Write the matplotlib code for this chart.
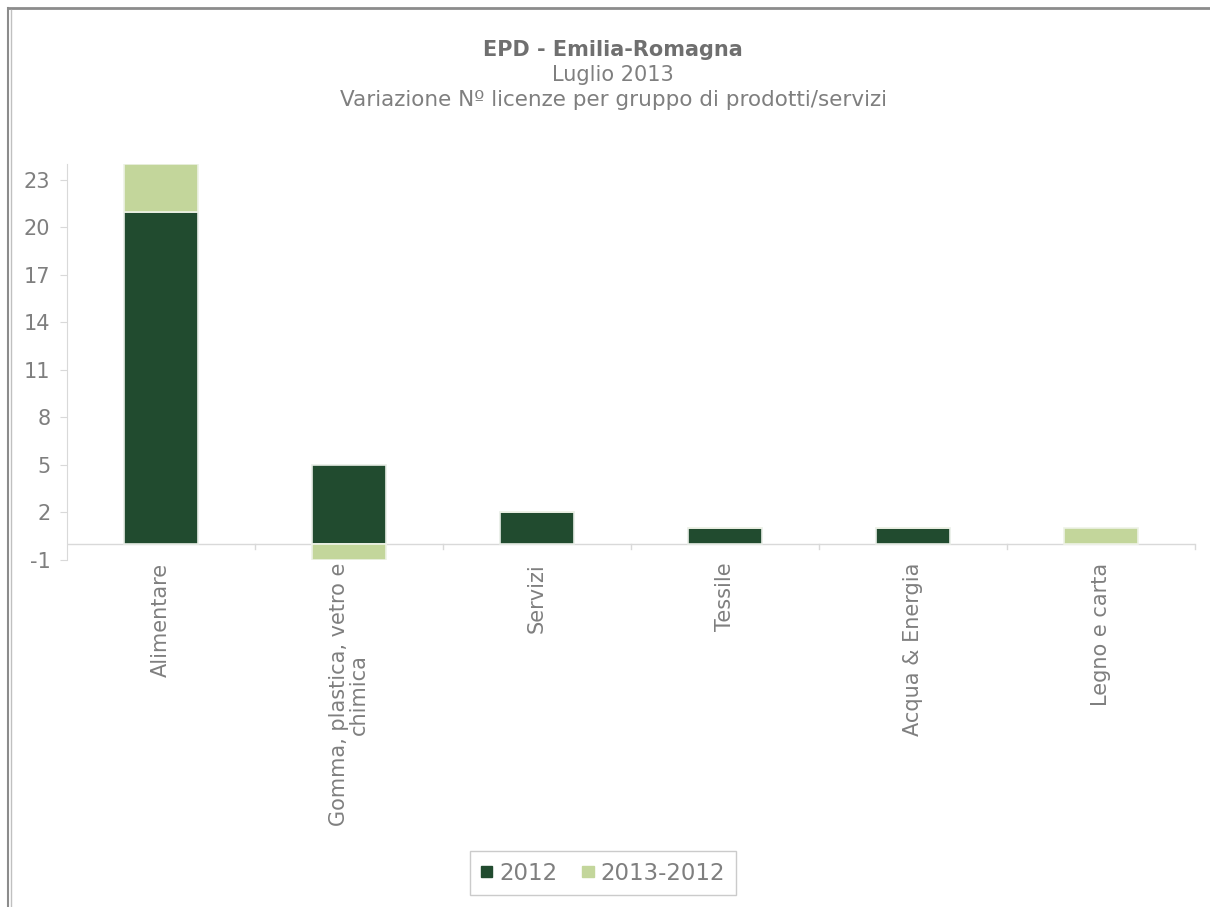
import matplotlib
matplotlib.use("Agg")
import matplotlib.pyplot as plt
from matplotlib.lines import Line2D
from matplotlib.patches import Patch
import numpy as np

# data
categories = ["Alimentare", "Gomma, plastica, vetro e\nchimica", "Servizi",
              "Tessile", "Acqua & Energia", "Legno e carta"]
val_2012 = [21, 5, 2, 1, 1, 0]
val_diff = [3, -1, 0, 0, 0, 1]
series_names = ["2012", "2013-2012"]
yticks = [-1, 2, 5, 8, 11, 14, 17, 20, 23]

dark = "#214b2f"
light = "#c3d69b"
grey_txt = "#7f7f7f"
axis_grey = "#d9d9d9"

fig = plt.figure(figsize=(12.1, 9.07), dpi=100)
ax = fig.add_axes([67 / 1210, 1 - 560 / 907, (1195 - 67) / 1210, 396 / 907])

x = np.arange(len(categories))
w = 0.39
ax.bar(x, val_2012, width=w, color=dark, edgecolor="#e8ede6", linewidth=1.2, zorder=3)
# positive differences stack on top, negative ones go below zero
pos_base = [v if d >= 0 else 0 for v, d in zip(val_2012, val_diff)]
ax.bar(x, val_diff, width=w, bottom=pos_base, color=light, edgecolor="#eef2e6",
       linewidth=1.2, zorder=3)

ax.set_xlim(-0.5, len(categories) - 0.5)
ax.set_ylim(-1, 24)
ax.set_yticks(yticks)
ax.set_yticklabels([str(t) for t in yticks], color=grey_txt, fontsize=15)
ax.tick_params(axis="y", length=5, color=axis_grey, pad=7)

ax.set_xticks(x)
ax.set_xticklabels(categories, rotation=90, color=grey_txt, fontsize=15,
                   multialignment="center", linespacing=0.95)
ax.tick_params(axis="x", length=0, pad=2)

# category separators on the zero line
for b in np.arange(0.5, len(categories), 1.0):
    ax.plot([b, b], [0, -0.3], color=axis_grey, lw=1, zorder=2, clip_on=False)
ax.axhline(0, color=axis_grey, lw=1, zorder=2)

for s in ["top", "right", "bottom"]:
    ax.spines[s].set_visible(False)
ax.spines["left"].set_color(axis_grey)

fig.text(613 / 1210, 1 - 50 / 907, "EPD - Emilia-Romagna", ha="center", va="center",
         fontsize=15, fontweight="bold", color="#6f6f6f")
fig.text(613 / 1210, 1 - 75 / 907, "Luglio 2013", ha="center", va="center",
         fontsize=15, color=grey_txt)
fig.text(613 / 1210, 1 - 100 / 907, "Variazione Nº licenze per gruppo di prodotti/servizi",
         ha="center", va="center", fontsize=15.5, color=grey_txt)

handles = [Patch(color=dark), Patch(color=light)]
leg = fig.legend(handles, series_names, loc="center", bbox_to_anchor=(603 / 1210, 1 - 873 / 907),
                 ncol=2, frameon=True, fancybox=False, fontsize=16.5, handlelength=0.5,
                 handleheight=0.35, handletextpad=0.3, columnspacing=1.1,
                 labelcolor=grey_txt, borderpad=0.45)
leg.get_frame().set_edgecolor("#bfbfbf")
leg.get_frame().set_linewidth(1)

# outer frame of the chart area
fig.add_artist(Line2D([8 / 1210, 1.0], [1 - 8 / 907] * 2, color="#8c8c8c", lw=2))
fig.add_artist(Line2D([8 / 1210] * 2, [0, 1 - 8 / 907], color="#8c8c8c", lw=1.5))
fig.add_artist(Line2D([11 / 1210] * 2, [0, 1 - 10 / 907], color="#c0c0c0", lw=1))

fig.savefig("out.png", dpi=100, facecolor="white")
